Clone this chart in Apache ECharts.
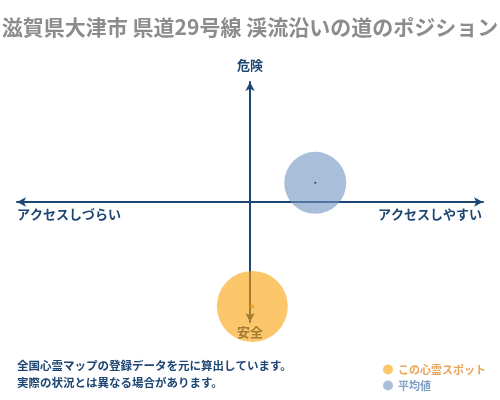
<!DOCTYPE html>
<html>
<head>
<meta charset="utf-8">
<script src="https://cdn.jsdelivr.net/npm/echarts@6/dist/echarts.min.js"></script>
<style>
  html, body { margin: 0; padding: 0; background: #fff; }
  #chart { width: 500px; height: 400px; }
</style>
</head>
<body>
<div id="chart"></div>
<script>
// data
const titleText = '滋賀県大津市 県道29号線 渓流沿いの道のポジション'
const seriesNames = ['この心霊スポット', '平均値']
const spotPoint = [0.01, -0.87]
const averagePoint = [0.28, 0.16]
const axisLabels = ['危険', '安全', 'アクセスしづらい', 'アクセスしやすい']
const noteLines = ['全国心霊マップの登録データを元に算出しています。', '実際の状況とは異なる場合があります。']

const font = '"Noto Sans CJK JP", sans-serif'
const navy = '#1d4673'
const orange = '#faa007'
const blue = '#6f94c0'

let chart = echarts.init(document.getElementById('chart'))
chart.setOption({
    animation: false,
    title: {
        text: titleText,
        left: 'center',
        top: 12,
        textStyle: { fontFamily: font, fontSize: 21, fontWeight: 'bold', color: '#8c8c8c' }
    },
    legend: {
        orient: 'vertical',
        left: 378,
        top: 359,
        itemWidth: 10,
        itemHeight: 10,
        itemGap: 5,
        icon: 'circle',
        data: [
            { name: seriesNames[0], textStyle: { color: '#e9a55a' } },
            { name: seriesNames[1], textStyle: { color: '#7d9fc6' } }
        ],
        textStyle: { fontFamily: font, fontSize: 11, fontWeight: 'bold' }
    },
    grid: { left: 17, right: 17, top: 82, bottom: 78 },
    xAxis: {
        type: 'value',
        min: -1,
        max: 1,
        axisLine: { show: true, symbol: ['arrow', 'arrow'], symbolSize: [7, 9], lineStyle: { color: navy, width: 2 } },
        axisTick: { show: false },
        axisLabel: { show: false },
        splitLine: { show: false }
    },
    yAxis: {
        type: 'value',
        min: -1,
        max: 1,
        axisLine: { show: true, symbol: ['arrow', 'arrow'], symbolSize: [7, 9], lineStyle: { color: navy, width: 2 } },
        axisTick: { show: false },
        axisLabel: { show: false },
        splitLine: { show: false }
    },
    graphic: [
        { type: 'text', left: 'center', top: 59, z: 0, style: { text: axisLabels[0], font: 'bold 13px ' + font, fill: navy } },
        { type: 'text', left: 'center', top: 326, z: 0, style: { text: axisLabels[1], font: 'bold 13px ' + font, fill: navy } },
        { type: 'text', left: 17, top: 208, z: 0, style: { text: axisLabels[2], font: 'bold 13px ' + font, fill: navy } },
        { type: 'text', right: 18, top: 208, z: 0, style: { text: axisLabels[3], font: 'bold 13px ' + font, fill: navy } },
        { type: 'text', left: 17, top: 360, z: 0, style: { text: noteLines[0], font: 'bold 11.5px ' + font, fill: navy } },
        { type: 'text', left: 17, top: 377, z: 0, style: { text: noteLines[1], font: 'bold 11.5px ' + font, fill: navy } }
    ],
    series: [
        {
            name: seriesNames[1],
            type: 'scatter',
            symbolSize: 62,
            itemStyle: { color: blue, opacity: 0.6 },
            data: [averagePoint],
            z: 3
        },
        {
            name: seriesNames[0],
            type: 'scatter',
            symbolSize: 71,
            itemStyle: { color: orange, opacity: 0.6 },
            data: [spotPoint],
            z: 4
        },
        {
            type: 'scatter',
            symbolSize: 2,
            itemStyle: { color: '#222' },
            data: [averagePoint],
            z: 5
        },
        {
            type: 'scatter',
            symbolSize: 4,
            itemStyle: { color: '#f39a1e' },
            data: [spotPoint],
            z: 5
        }
    ]
})
</script>
</body>
</html>
